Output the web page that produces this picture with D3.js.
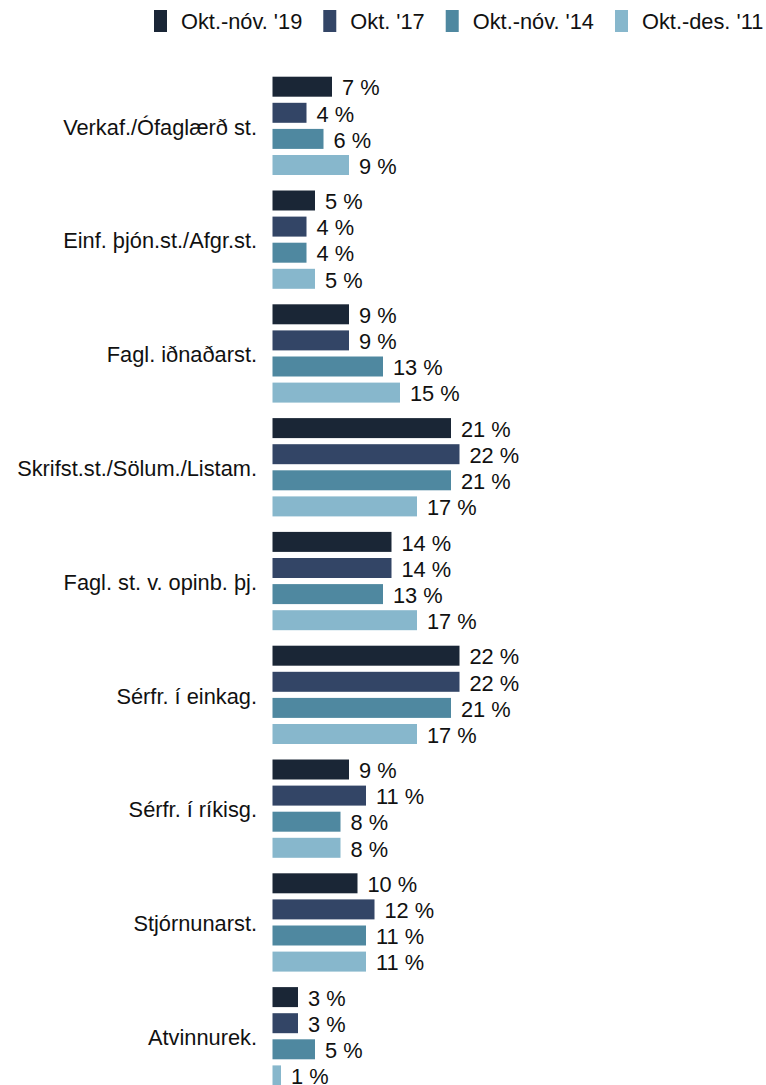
<!DOCTYPE html>
<html>
<head>
<meta charset="utf-8">
<script src="https://cdn.jsdelivr.net/npm/d3@7/dist/d3.min.js"></script>
<style>
  html, body { margin: 0; padding: 0; background: #fff; }
  svg { display: block; font-family: "Liberation Sans", Arial, sans-serif; }
</style>
</head>
<body>
<svg id="chart" width="766" height="1085"></svg>
<script>
const categories = [
  "Verkaf./Ófaglærð st.",
  "Einf. þjón.st./Afgr.st.",
  "Fagl. iðnaðarst.",
  "Skrifst.st./Sölum./Listam.",
  "Fagl. st. v. opinb. þj.",
  "Sérfr. í einkag.",
  "Sérfr. í ríkisg.",
  "Stjórnunarst.",
  "Atvinnurek."
];
const seriesNames = ["Okt.-nóv. '19", "Okt. '17", "Okt.-nóv. '14", "Okt.-des. '11"];
const seriesColors = ["#1a2636", "#334566", "#4f88a0", "#87b7cc"];
const values2019 = [7, 5, 9, 21, 14, 22, 9, 10, 3];
const values2017 = [4, 4, 9, 22, 14, 22, 11, 12, 3];
const values2014 = [6, 4, 13, 21, 13, 21, 8, 11, 5];
const values2011 = [9, 5, 15, 17, 17, 17, 8, 11, 1];
const seriesValues = [values2019, values2017, values2014, values2011];

const svg = d3.select("#chart");
const FS = 21.8;

const x = d3.scaleLinear().domain([0, 22]).range([272.5, 459.5]);
const groupStep = 113.8;
const y0 = d3.scaleBand().domain(categories)
  .range([73.65, 73.65 + categories.length * groupStep])
  .paddingInner(0).paddingOuter(0);
const y1 = d3.scaleBand().domain(d3.range(seriesNames.length))
  .range([0, 104.4]).paddingInner(0.234).paddingOuter(0.117);

const rows = [];
categories.forEach((c, ci) => {
  seriesValues.forEach((vals, si) => rows.push({cat: c, s: si, v: vals[ci]}));
});

const fmt = d => d3.format(".0f")(d) + " %";

const g = svg.append("g");
g.selectAll("rect.bar").data(rows).join("rect")
  .attr("class", "bar")
  .attr("x", x(0))
  .attr("y", d => y0(d.cat) + y1(d.s))
  .attr("width", d => x(d.v) - x(0))
  .attr("height", y1.bandwidth())
  .attr("fill", d => seriesColors[d.s]);

g.selectAll("text.val").data(rows).join("text")
  .attr("class", "val")
  .attr("x", d => x(d.v) + 10)
  .attr("y", d => y0(d.cat) + y1(d.s) + y1.bandwidth() / 2)
  .attr("dy", "0.4em")
  .attr("font-size", FS)
  .attr("fill", "#111")
  .text(d => fmt(d.v));

// category labels
const first = y1(0), last = y1(seriesNames.length - 1) + y1.bandwidth();
g.selectAll("text.cat").data(categories).join("text")
  .attr("class", "cat")
  .attr("x", 257)
  .attr("y", d => y0(d) + (first + last) / 2)
  .attr("dy", "0.4em")
  .attr("text-anchor", "end")
  .attr("font-size", FS)
  .attr("fill", "#111")
  .text(d => d);

// legend
const legend = svg.append("g");
let lx = 154;
seriesNames.forEach((name, i) => {
  legend.append("rect")
    .attr("x", lx).attr("y", 10).attr("width", 13).attr("height", 22)
    .attr("fill", seriesColors[i]);
  const t = legend.append("text")
    .attr("x", lx + 27).attr("y", 21).attr("dy", "0.38em")
    .attr("font-size", FS).attr("fill", "#111")
    .text(name);
  lx = lx + 27 + t.node().getComputedTextLength() + 21;
});
</script>
</body>
</html>
